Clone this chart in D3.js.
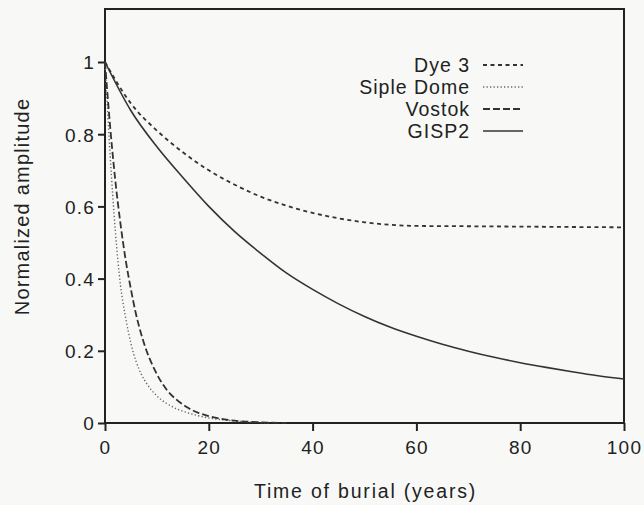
<!DOCTYPE html>
<html>
<head>
<meta charset="utf-8">
<script src="https://cdn.jsdelivr.net/npm/d3@7/dist/d3.min.js"></script>
<style>
  html, body { margin: 0; padding: 0; background: #f8f9f7; }
  svg { display: block; }
  text { font-family: "Liberation Sans", Arial, Helvetica, sans-serif; fill: #222; }
</style>
</head>
<body>
<svg id="chart" width="644" height="505"></svg>
<script>
// Amplitude decay with burial time for four ice-core sites
const dye3Years   = [0, 5, 10, 15, 20, 25, 30, 35, 40, 45, 50, 55, 60, 70, 80, 90, 100];
const dye3Values  = [1, 0.885, 0.81, 0.75, 0.70, 0.66, 0.627, 0.602, 0.582, 0.567, 0.556, 0.549, 0.546, 0.545, 0.544, 0.543, 0.542];

const sipleYears  = [0, 1, 2, 3, 4, 5, 6, 7, 8, 10, 12, 14, 16, 18, 20, 24, 28, 32];
const sipleValues = [1, 0.74, 0.53, 0.38, 0.29, 0.22, 0.17, 0.135, 0.11, 0.075, 0.053, 0.038, 0.028, 0.02, 0.014, 0.007, 0.003, 0];

const vostokYears  = [0, 1, 2, 3, 4, 5, 6, 7, 8, 9, 10, 12, 14, 16, 18, 20, 23, 26, 30, 35];
const vostokValues = [1, 0.82, 0.67, 0.55, 0.45, 0.37, 0.30, 0.245, 0.20, 0.165, 0.135, 0.09, 0.062, 0.042, 0.028, 0.019, 0.01, 0.005, 0.002, 0];

const gispYears  = [0, 5, 10, 15, 20, 25, 30, 35, 40, 45, 50, 55, 60, 65, 70, 75, 80, 85, 90, 95, 100];
const gispValues = [1, 0.865, 0.765, 0.68, 0.6, 0.53, 0.47, 0.415, 0.37, 0.33, 0.295, 0.265, 0.24, 0.218, 0.199, 0.182, 0.167, 0.154, 0.142, 0.131, 0.122];

const seriesNames = ["Dye 3", "Siple Dome", "Vostok", "GISP2"];
const xTicks = [0, 20, 40, 60, 80, 100];
const yTicks = [0, 0.2, 0.4, 0.6, 0.8, 1];

const series = [
  { name: seriesNames[0], years: dye3Years,   values: dye3Values,   dash: "4,3.5", width: 1.8, color: "#333" },
  { name: seriesNames[1], years: sipleYears,  values: sipleValues,  dash: "1.3,2.2", width: 1.4, color: "#666" },
  { name: seriesNames[2], years: vostokYears, values: vostokValues, dash: "7,3",   width: 1.8, color: "#333" },
  { name: seriesNames[3], years: gispYears,   values: gispValues,   dash: null,    width: 1.6, color: "#333" }
];

const svg = d3.select("#chart");
const plotLeft = 105, plotRight = 624, plotBottom = 423, plotTop = 9;

const x = d3.scaleLinear().domain([0, 100]).range([plotLeft, plotRight]);
const y = d3.scaleLinear().domain([0, 1]).range([plotBottom, 62]);

// plot frame
svg.append("rect")
  .attr("x", plotLeft).attr("y", plotTop)
  .attr("width", plotRight - plotLeft).attr("height", plotBottom - plotTop)
  .attr("fill", "none").attr("stroke", "#222").attr("stroke-width", 2);

// axes
const fmt = d3.format("~g");
const yAxis = svg.append("g")
  .attr("transform", `translate(${plotLeft},0)`)
  .call(d3.axisLeft(y).tickValues(yTicks).tickFormat(fmt).tickSize(7).tickPadding(3));
const xAxis = svg.append("g")
  .attr("transform", `translate(0,${plotBottom})`)
  .call(d3.axisBottom(x).tickValues(xTicks).tickFormat(fmt).tickSize(8).tickPadding(10));

[yAxis, xAxis].forEach(g => {
  g.select(".domain").remove();
  g.selectAll(".tick line").attr("stroke", "#222").attr("stroke-width", 2);
  g.selectAll(".tick text")
    .style("font-size", "19px")
    .style("letter-spacing", "1.2px")
    .attr("fill", "#222");
});
yAxis.selectAll(".tick text").attr("dy", "0.36em");

// curves
const line = d3.line()
  .x(d => x(d[0]))
  .y(d => y(d[1]))
  .curve(d3.curveMonotoneX);

series.forEach(s => {
  const pts = s.years.map((t, i) => [t, s.values[i]]);
  svg.append("path")
    .datum(pts)
    .attr("d", line)
    .attr("fill", "none")
    .attr("stroke", s.color)
    .attr("stroke-width", s.width)
    .attr("stroke-dasharray", s.dash);
});

// legend
const legendRows = [65, 87, 109, 131];
series.forEach((s, i) => {
  const ly = legendRows[i];
  svg.append("text")
    .attr("x", 470).attr("y", ly + 7)
    .attr("text-anchor", "end")
    .style("font-size", "19.5px")
    .style("letter-spacing", "1px")
    .text(s.name);
  svg.append("line")
    .attr("x1", 483).attr("x2", 523)
    .attr("y1", ly).attr("y2", ly)
    .attr("stroke", s.color)
    .attr("stroke-width", s.width)
    .attr("stroke-dasharray", s.dash);
});

// axis titles
svg.append("text")
  .attr("x", (plotLeft + plotRight) / 2 + 1).attr("y", 498)
  .attr("text-anchor", "middle")
  .style("font-size", "19.5px")
  .style("letter-spacing", "1.8px")
  .text("Time of burial (years)");

svg.append("text")
  .attr("transform", `translate(29,${(95 + 318) / 2}) rotate(-90)`)
  .attr("text-anchor", "middle")
  .style("font-size", "20px")
  .style("letter-spacing", "1.2px")
  .text("Normalized amplitude");
</script>
</body>
</html>
